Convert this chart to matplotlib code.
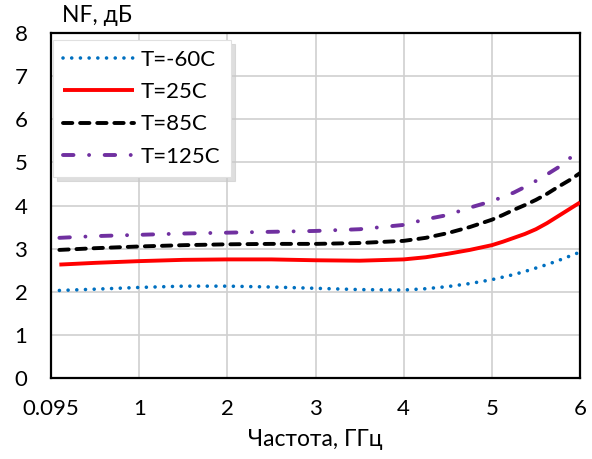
import matplotlib
matplotlib.use("Agg")
import matplotlib.pyplot as plt

# ---- data ----
freq = [0.095, 0.5, 1.0, 1.5, 2.0, 2.5, 3.0, 3.5, 4.0, 4.25, 4.5, 4.75, 5.0,
        5.125, 5.25, 5.375, 5.5, 5.625, 5.75, 5.875, 6.0]
nf_m60 = [2.03, 2.06, 2.10, 2.13, 2.13, 2.11, 2.08, 2.05, 2.04, 2.07, 2.12, 2.19, 2.28,
          2.34, 2.40, 2.47, 2.55, 2.63, 2.72, 2.82, 2.92]
nf_25 = [2.63, 2.67, 2.71, 2.74, 2.75, 2.75, 2.73, 2.72, 2.75, 2.80, 2.88, 2.97, 3.08,
         3.16, 3.25, 3.34, 3.45, 3.59, 3.75, 3.91, 4.07]
nf_85 = [2.97, 3.01, 3.05, 3.08, 3.10, 3.11, 3.11, 3.13, 3.18, 3.25, 3.36, 3.50, 3.67,
         3.78, 3.90, 4.01, 4.13, 4.27, 4.43, 4.58, 4.75]
nf_125 = [3.25, 3.29, 3.32, 3.35, 3.37, 3.39, 3.41, 3.45, 3.55, 3.68, 3.78, 3.95, 4.10,
          4.20, 4.30, 4.43, 4.57, 4.72, 4.88, 5.08, 5.30]
labels = ["T=-60C", "T=25C", "T=85C", "T=125C"]
xtick_pos = [0, 1, 2, 3, 4, 5, 6]
xtick_labels = ["0.095", "1", "2", "3", "4", "5", "6"]
ytick_pos = [0, 1, 2, 3, 4, 5, 6, 7, 8]

plt.rcParams['font.family'] = ['Lato', 'DejaVu Sans']

W, H = 592, 459
fig = plt.figure(figsize=(W / 100, H / 100), dpi=100)
L, R, B, T = 51, 580, 378, 33
ax = fig.add_axes([L / W, 1 - B / H, (R - L) / W, (B - T) / H])

lw = 2.8
ax.plot(freq, nf_m60, color="#0070C0", lw=2.6, linestyle=(0, (0.01, 2.4)),
        dash_capstyle="round", label=labels[0], zorder=3)
ax.plot(freq, nf_25, color="#FF0000", lw=lw, linestyle="-", label=labels[1],
        solid_capstyle="butt", solid_joinstyle="round", zorder=3)
ax.plot(freq, nf_85, color="black", lw=lw, linestyle=(0, (2.4, 2.0)),
        dash_capstyle="round", label=labels[2], zorder=3)
ax.plot(freq, nf_125, color="#7030A0", lw=lw, linestyle=(0, (2.7, 4.0, 0.01, 4.0)),
        dash_capstyle="round", label=labels[3], zorder=3)

ax.set_xlim(0, 6)
ax.set_ylim(0, 8)
ax.set_xticks(xtick_pos)
ax.set_xticklabels(xtick_labels)
ax.set_yticks(ytick_pos)
ax.tick_params(axis="both", length=0, labelsize=16)
ax.tick_params(axis="x", pad=15)
ax.tick_params(axis="y", pad=17)
ax.grid(True, color="#d0d0d0", lw=1.2, zorder=0)
ax.set_axisbelow(True)
for s in ax.spines.values():
    s.set_color("black")
    s.set_linewidth(1.6)

leg = ax.legend(loc="upper left", bbox_to_anchor=(0.004, 0.98), borderaxespad=0,
                fontsize=16, handlelength=3.2, handletextpad=0.3, labelspacing=0.55,
                borderpad=0.45, fancybox=False, frameon=True,
                shadow={"color": "#c8c8c8", "alpha": 0.6, "ox": 3, "oy": -3})
leg.get_frame().set_edgecolor("#e0e0e0")
leg.get_frame().set_linewidth(0.8)
leg.get_frame().set_alpha(1)

fig.text(62 / W, 1 - 16 / H, "NF, дБ", fontsize=16.5, ha="left", va="center")
fig.text((L + R) / 2 / W, 1 - 440 / H, "Частота, ГГц", fontsize=16.5, ha="center", va="center")

fig.savefig("out.png", dpi=100)
